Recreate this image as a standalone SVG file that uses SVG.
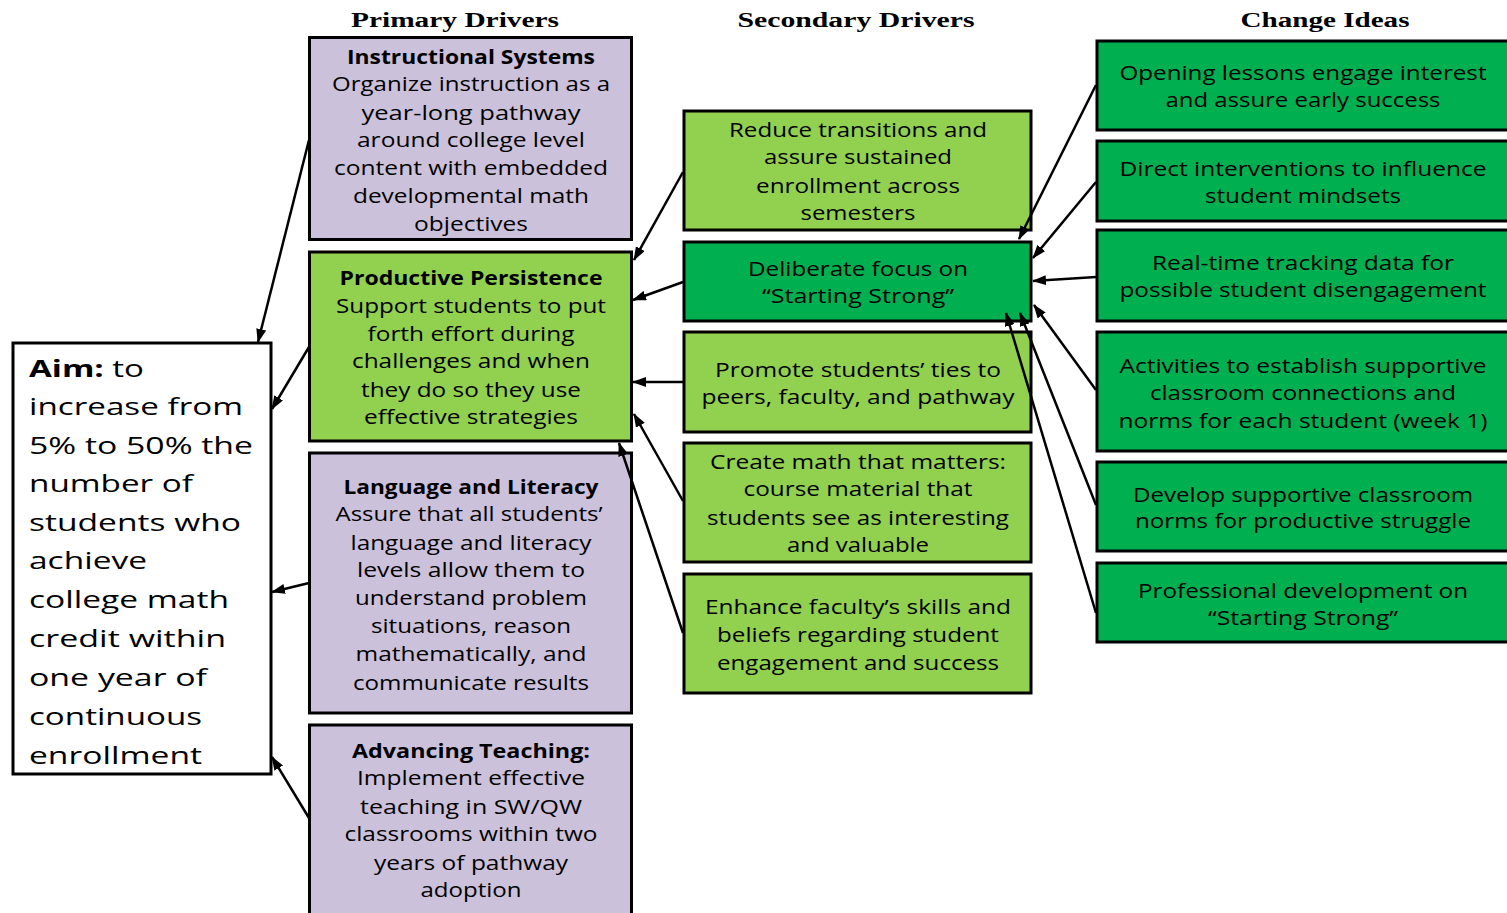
<svg xmlns="http://www.w3.org/2000/svg" width="1507" height="913" viewBox="0 0 1507 913">
<defs>
<style>
.t{font-family:"Open Sans","Noto Sans",sans-serif;font-size:20px;fill:#000;text-anchor:middle}
.b{font-weight:700}
.h{font-family:"Liberation Serif","DejaVu Serif",serif;font-weight:700;font-size:20px;fill:#000;text-anchor:middle}
.aim{font-family:"Open Sans","Noto Sans",sans-serif;font-size:24px;fill:#000}
.box{stroke:#000;stroke-width:3}
.pu{fill:#CCC1DA}
.lg{fill:#92D050}
.dg{fill:#00B050}
.w{fill:#fff}
.c{stroke:#000;stroke-width:2.5;fill:none;marker-end:url(#ah)}
</style>
<marker id="ah" markerUnits="userSpaceOnUse" markerWidth="14" markerHeight="10" refX="13" refY="5" orient="auto">
<path d="M0,0 L14,5 L0,10 z" fill="#000"/>
</marker>
</defs>
<rect width="1507" height="913" fill="#fff"/>

<g id="headers">
<text class="h" x="455" y="27" textLength="208" lengthAdjust="spacingAndGlyphs">Primary Drivers</text>
<text class="h" x="856" y="27" textLength="237" lengthAdjust="spacingAndGlyphs">Secondary Drivers</text>
<text class="h" x="1325" y="27" textLength="169" lengthAdjust="spacingAndGlyphs">Change Ideas</text>
</g>

<g id="aim">
<rect class="box w" x="13" y="343" width="258" height="431"/>
<text class="aim" x="29" y="377" textLength="115" lengthAdjust="spacingAndGlyphs"><tspan font-weight="700">Aim:</tspan> to</text>
<text class="aim" x="29" y="415" textLength="214" lengthAdjust="spacingAndGlyphs">increase from</text>
<text class="aim" x="29" y="454" textLength="224" lengthAdjust="spacingAndGlyphs">5% to 50% the</text>
<text class="aim" x="29" y="492" textLength="164" lengthAdjust="spacingAndGlyphs">number of</text>
<text class="aim" x="29" y="531" textLength="212" lengthAdjust="spacingAndGlyphs">students who</text>
<text class="aim" x="29" y="569" textLength="118" lengthAdjust="spacingAndGlyphs">achieve</text>
<text class="aim" x="29" y="608" textLength="200" lengthAdjust="spacingAndGlyphs">college math</text>
<text class="aim" x="29" y="647" textLength="197" lengthAdjust="spacingAndGlyphs">credit within</text>
<text class="aim" x="29" y="686" textLength="178" lengthAdjust="spacingAndGlyphs">one year of</text>
<text class="aim" x="29" y="725" textLength="173" lengthAdjust="spacingAndGlyphs">continuous</text>
<text class="aim" x="29" y="764" textLength="173" lengthAdjust="spacingAndGlyphs">enrollment</text>
</g>

<g id="instructional-systems">
<rect class="box pu" x="309.5" y="37.5" width="322" height="202"/>
<text class="t b" x="471" y="64" textLength="248" lengthAdjust="spacingAndGlyphs">Instructional Systems</text>
<text class="t" x="471" y="91" textLength="278" lengthAdjust="spacingAndGlyphs">Organize instruction as a</text>
<text class="t" x="471" y="120" textLength="219" lengthAdjust="spacingAndGlyphs">year-long pathway</text>
<text class="t" x="471" y="147" textLength="228" lengthAdjust="spacingAndGlyphs">around college level</text>
<text class="t" x="471" y="175" textLength="274" lengthAdjust="spacingAndGlyphs">content with embedded</text>
<text class="t" x="471" y="203" textLength="236" lengthAdjust="spacingAndGlyphs">developmental math</text>
<text class="t" x="471" y="231" textLength="114" lengthAdjust="spacingAndGlyphs">objectives</text>
</g>

<g id="productive-persistence">
<rect class="box lg" x="309.5" y="252" width="322" height="189"/>
<text class="t b" x="471" y="285" textLength="263" lengthAdjust="spacingAndGlyphs">Productive Persistence</text>
<text class="t" x="471" y="313" textLength="270" lengthAdjust="spacingAndGlyphs">Support students to put</text>
<text class="t" x="471" y="341" textLength="207" lengthAdjust="spacingAndGlyphs">forth effort during</text>
<text class="t" x="471" y="368" textLength="238" lengthAdjust="spacingAndGlyphs">challenges and when</text>
<text class="t" x="471" y="397" textLength="220" lengthAdjust="spacingAndGlyphs">they do so they use</text>
<text class="t" x="471" y="424" textLength="214" lengthAdjust="spacingAndGlyphs">effective strategies</text>
</g>

<g id="language-literacy">
<rect class="box pu" x="309.5" y="453" width="322" height="260"/>
<text class="t b" x="471" y="494" textLength="255" lengthAdjust="spacingAndGlyphs">Language and Literacy</text>
<text class="t" x="469" y="521" textLength="267" lengthAdjust="spacingAndGlyphs">Assure that all students’</text>
<text class="t" x="471" y="550" textLength="241" lengthAdjust="spacingAndGlyphs">language and literacy</text>
<text class="t" x="471" y="577" textLength="228" lengthAdjust="spacingAndGlyphs">levels allow them to</text>
<text class="t" x="471" y="605" textLength="232" lengthAdjust="spacingAndGlyphs">understand problem</text>
<text class="t" x="471" y="633" textLength="200" lengthAdjust="spacingAndGlyphs">situations, reason</text>
<text class="t" x="471" y="661" textLength="231" lengthAdjust="spacingAndGlyphs">mathematically, and</text>
<text class="t" x="471" y="690" textLength="236" lengthAdjust="spacingAndGlyphs">communicate results</text>
</g>

<g id="advancing-teaching">
<rect class="box pu" x="309.5" y="725" width="322" height="210"/>
<text class="t b" x="471" y="758" textLength="238" lengthAdjust="spacingAndGlyphs">Advancing Teaching:</text>
<text class="t" x="471" y="785" textLength="228" lengthAdjust="spacingAndGlyphs">Implement effective</text>
<text class="t" x="471" y="814" textLength="222" lengthAdjust="spacingAndGlyphs">teaching in SW/QW</text>
<text class="t" x="471" y="841" textLength="253" lengthAdjust="spacingAndGlyphs">classrooms within two</text>
<text class="t" x="471" y="870" textLength="194" lengthAdjust="spacingAndGlyphs">years of pathway</text>
<text class="t" x="471" y="897" textLength="101" lengthAdjust="spacingAndGlyphs">adoption</text>
</g>

<g id="reduce-transitions">
<rect class="box lg" x="684" y="111" width="347" height="119"/>
<text class="t" x="858" y="137" textLength="258" lengthAdjust="spacingAndGlyphs">Reduce transitions and</text>
<text class="t" x="858" y="164" textLength="188" lengthAdjust="spacingAndGlyphs">assure sustained</text>
<text class="t" x="858" y="193" textLength="204" lengthAdjust="spacingAndGlyphs">enrollment across</text>
<text class="t" x="858" y="220" textLength="115" lengthAdjust="spacingAndGlyphs">semesters</text>
</g>

<g id="deliberate-focus">
<rect class="box dg" x="684" y="242" width="347" height="79"/>
<text class="t" x="858" y="276" textLength="220" lengthAdjust="spacingAndGlyphs">Deliberate focus on</text>
<text class="t" x="858" y="303" textLength="192" lengthAdjust="spacingAndGlyphs">“Starting Strong”</text>
</g>

<g id="promote-ties">
<rect class="box lg" x="684" y="332" width="347" height="100"/>
<text class="t" x="858" y="377" textLength="286" lengthAdjust="spacingAndGlyphs">Promote students’ ties to</text>
<text class="t" x="858" y="404" textLength="313" lengthAdjust="spacingAndGlyphs">peers, faculty, and pathway</text>
</g>

<g id="create-math">
<rect class="box lg" x="684" y="443" width="347" height="119"/>
<text class="t" x="858" y="469" textLength="296" lengthAdjust="spacingAndGlyphs">Create math that matters:</text>
<text class="t" x="858" y="496" textLength="229" lengthAdjust="spacingAndGlyphs">course material that</text>
<text class="t" x="858" y="525" textLength="302" lengthAdjust="spacingAndGlyphs">students see as interesting</text>
<text class="t" x="858" y="552" textLength="142" lengthAdjust="spacingAndGlyphs">and valuable</text>
</g>

<g id="enhance-faculty">
<rect class="box lg" x="684" y="574" width="347" height="119"/>
<text class="t" x="858" y="614" textLength="306" lengthAdjust="spacingAndGlyphs">Enhance faculty’s skills and</text>
<text class="t" x="858" y="642" textLength="282" lengthAdjust="spacingAndGlyphs">beliefs regarding student</text>
<text class="t" x="858" y="670" textLength="282" lengthAdjust="spacingAndGlyphs">engagement and success</text>
</g>

<g id="opening-lessons">
<rect class="box dg" x="1097" y="41" width="420" height="89"/>
<text class="t" x="1303" y="80" textLength="367" lengthAdjust="spacingAndGlyphs">Opening lessons engage interest</text>
<text class="t" x="1303" y="107" textLength="275" lengthAdjust="spacingAndGlyphs">and assure early success</text>
</g>

<g id="direct-interventions">
<rect class="box dg" x="1097" y="141" width="420" height="80"/>
<text class="t" x="1303" y="176" textLength="367" lengthAdjust="spacingAndGlyphs">Direct interventions to influence</text>
<text class="t" x="1303" y="203" textLength="196" lengthAdjust="spacingAndGlyphs">student mindsets</text>
</g>

<g id="real-time-tracking">
<rect class="box dg" x="1097" y="230" width="420" height="91"/>
<text class="t" x="1303" y="270" textLength="302" lengthAdjust="spacingAndGlyphs">Real-time tracking data for</text>
<text class="t" x="1303" y="297" textLength="367" lengthAdjust="spacingAndGlyphs">possible student disengagement</text>
</g>

<g id="activities">
<rect class="box dg" x="1097" y="332" width="420" height="119"/>
<text class="t" x="1303" y="373" textLength="367" lengthAdjust="spacingAndGlyphs">Activities to establish supportive</text>
<text class="t" x="1303" y="400" textLength="306" lengthAdjust="spacingAndGlyphs">classroom connections and</text>
<text class="t" x="1303" y="428" textLength="369" lengthAdjust="spacingAndGlyphs">norms for each student (week 1)</text>
</g>

<g id="develop-norms">
<rect class="box dg" x="1097" y="462" width="420" height="89"/>
<text class="t" x="1303" y="502" textLength="340" lengthAdjust="spacingAndGlyphs">Develop supportive classroom</text>
<text class="t" x="1303" y="528" textLength="336" lengthAdjust="spacingAndGlyphs">norms for productive struggle</text>
</g>

<g id="professional-development">
<rect class="box dg" x="1097" y="563" width="420" height="79"/>
<text class="t" x="1303" y="598" textLength="330" lengthAdjust="spacingAndGlyphs">Professional development on</text>
<text class="t" x="1303" y="625" textLength="190" lengthAdjust="spacingAndGlyphs">“Starting Strong”</text>
</g>

<g id="connectors">
<line class="c" x1="309" y1="140" x2="258" y2="342"/>
<line class="c" x1="309" y1="347" x2="272" y2="409"/>
<line class="c" x1="309" y1="583" x2="272" y2="592"/>
<line class="c" x1="309" y1="818" x2="272" y2="757"/>
<line class="c" x1="683" y1="172" x2="634" y2="260"/>
<line class="c" x1="683" y1="282" x2="633" y2="300"/>
<line class="c" x1="683" y1="382" x2="633" y2="382"/>
<line class="c" x1="683" y1="501" x2="634" y2="414"/>
<line class="c" x1="683" y1="633" x2="619" y2="443"/>
<line class="c" x1="1096" y1="85" x2="1019" y2="239"/>
<line class="c" x1="1096" y1="182" x2="1033" y2="258"/>
<line class="c" x1="1096" y1="277" x2="1033" y2="281"/>
<line class="c" x1="1096" y1="390" x2="1034" y2="305"/>
<line class="c" x1="1096" y1="505" x2="1020" y2="313"/>
<line class="c" x1="1096" y1="613" x2="1006" y2="313"/>
</g>
</svg>
